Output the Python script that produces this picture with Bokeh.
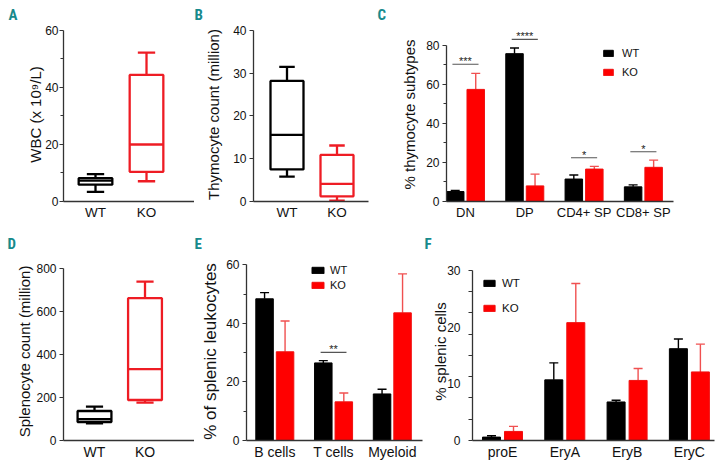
from bokeh.plotting import figure
from bokeh.layouts import row, column
from bokeh.models import (ColumnDataSource, FixedTicker, Whisker, TeeHead, Legend,
                          LegendItem, Range1d, Title)
from bokeh.core.properties import value
from bokeh.embed import file_html
from bokeh.resources import INLINE

# ---------------- data ----------------
box_groups = ["WT", "KO"]

wbc_min = [3.4, 7.1]
wbc_q1 = [5.9, 10.4]
wbc_med = [7.3, 20.0]
wbc_q3 = [8.2, 44.4]
wbc_max = [9.6, 52.2]

thymo_min = [5.8, 0.2]
thymo_q1 = [7.5, 1.2]
thymo_med = [15.6, 4.1]
thymo_q3 = [28.2, 10.9]
thymo_max = [31.5, 13.1]

spleno_min = [80, 176]
spleno_q1 = [86, 188]
spleno_med = [99, 331]
spleno_q3 = [137, 661]
spleno_max = [157, 738]

thy_subtypes = ["DN", "DP", "CD4+ SP", "CD8+ SP"]
thy_wt = [5.1, 75.7, 11.5, 7.5]
thy_wt_sem = [0.5, 2.9, 2.1, 1.0]
thy_ko = [57.4, 8.0, 16.6, 17.5]
thy_ko_sem = [8.2, 6.0, 1.4, 3.7]
thy_sig_idx = [0, 1, 2, 3]
thy_sig_y = [70.3, 83.0, 22.4, 25.5]
thy_sig = ["***", "****", "*", "*"]

leuk_types = ["B cells", "T cells", "Myeloid"]
leuk_wt = [48.4, 26.5, 15.9]
leuk_wt_sem = [2.1, 0.8, 1.6]
leuk_ko = [30.3, 13.2, 43.6]
leuk_ko_sem = [10.5, 3.0, 13.3]
leuk_sig_idx = [1]
leuk_sig_y = [30.1]
leuk_sig = ["**"]

ery_types = ["proE", "EryA", "EryB", "EryC"]
ery_wt = [0.6, 10.7, 6.8, 16.2]
ery_wt_sem = [0.25, 3.0, 0.3, 1.7]
ery_ko = [1.6, 20.8, 10.6, 12.1]
ery_ko_sem = [0.9, 6.9, 2.1, 4.9]

# ---------------- styles ----------------
BLACK = "#000000"
RED = "#ff0000"
BOX_RED = "#ee1c24"
ERR_RED = "#f05050"
AXIS = "#333333"
TEAL = "#178a8c"
FONT = "Liberation Sans"
LETTER_FONT = "Liberation Sans Narrow, Roboto Condensed, Liberation Sans"


def make_fig(width, height, xr, yr, borders, letter, letter_off, letter_standoff):
    l, r, t, b = borders
    p = figure(width=width, height=height, x_range=Range1d(*xr), y_range=Range1d(*yr),
               output_backend="svg", toolbar_location=None,
               min_border_left=l, min_border_right=r, min_border_top=t, min_border_bottom=b)
    p.outline_line_color = None
    p.grid.visible = False
    p.background_fill_color = "white"
    p.border_fill_color = "white"
    p.title = Title(text=letter, align="left", offset=letter_off, standoff=letter_standoff,
                    text_font=LETTER_FONT, text_font_size="15px", text_font_style="bold",
                    text_color=TEAL, vertical_align="bottom")
    return p


def style_axes(p, xticks, xlabels, xfs, yticks, yminor, ytop, ylabel, ylfs="15px",
               ytick_out=4, yminor_out=3, ylab_standoff=3, ytick_standoff=3):
    xa = p.xaxis[0]
    xa.ticker = FixedTicker(ticks=xticks)
    xa.major_label_overrides = {t: lab for t, lab in zip(xticks, xlabels)}
    xa.major_tick_line_color = None
    xa.minor_tick_line_color = None
    xa.major_tick_out = 0
    xa.major_tick_in = 0
    xa.major_label_standoff = 3
    xa.axis_line_color = AXIS
    xa.axis_line_width = 1.3
    xa.major_label_text_font = FONT
    xa.major_label_text_font_size = xfs
    xa.major_label_text_color = "#111111"

    ya = p.yaxis[0]
    ya.ticker = FixedTicker(ticks=yticks, minor_ticks=yminor)
    ya.bounds = (0, ytop)
    ya.axis_line_color = AXIS
    ya.axis_line_width = 1.3
    ya.major_tick_line_color = AXIS
    ya.minor_tick_line_color = AXIS
    ya.major_tick_line_width = 1.2
    ya.minor_tick_line_width = 1.2
    ya.major_tick_out = ytick_out
    ya.major_tick_in = 0
    ya.minor_tick_out = yminor_out
    ya.minor_tick_in = 0
    ya.major_label_standoff = ytick_standoff
    ya.major_label_text_font = FONT
    ya.major_label_text_font_size = "12px"
    ya.major_label_text_color = "#111111"
    ya.axis_label = ylabel
    ya.axis_label_text_font = FONT
    ya.axis_label_text_font_size = ylfs
    ya.axis_label_text_font_style = "normal"
    ya.axis_label_text_color = "#111111"
    ya.axis_label_standoff = ylab_standoff


def box_panel(p, mins, q1s, meds, q3s, maxs, box_w, cap_w):
    colors = [BLACK, BOX_RED]
    xs = [i + 1 for i in range(len(box_groups))]
    src = ColumnDataSource(dict(
        x=xs, left=[x - box_w / 2 for x in xs], right=[x + box_w / 2 for x in xs],
        cl=[x - cap_w / 2 for x in xs], cr=[x + cap_w / 2 for x in xs],
        mn=mins, q1=q1s, md=meds, q3=q3s, mx=maxs, color=colors))
    lw = 2.3
    p.segment(x0="x", x1="x", y0="q3", y1="mx", line_color="color", line_width=lw, source=src)
    p.segment(x0="x", x1="x", y0="mn", y1="q1", line_color="color", line_width=lw, source=src)
    p.segment(x0="cl", x1="cr", y0="mx", y1="mx", line_color="color", line_width=lw, source=src)
    p.segment(x0="cl", x1="cr", y0="mn", y1="mn", line_color="color", line_width=lw, source=src)
    p.quad(left="left", right="right", bottom="q1", top="q3", fill_color="white",
           line_color="color", line_width=lw, source=src)
    p.segment(x0="left", x1="right", y0="md", y1="md", line_color="color", line_width=lw, source=src)


def bar_panel(p, cats, wt, wt_sem, ko, ko_sem, off, bw):
    idx = list(range(len(cats)))
    swt = ColumnDataSource(dict(x=[i - off for i in idx], top=wt,
                                hi=[v + s for v, s in zip(wt, wt_sem)]))
    sko = ColumnDataSource(dict(x=[i + off for i in idx], top=ko,
                                hi=[v + s for v, s in zip(ko, ko_sem)]))
    p.add_layout(Whisker(source=swt, base="x", lower="top", upper="hi", dimension="height",
                         line_color=BLACK, line_width=1.4, lower_head=None,
                         upper_head=TeeHead(size=9, line_color=BLACK, line_width=1.4)))
    p.add_layout(Whisker(source=sko, base="x", lower="top", upper="hi", dimension="height",
                         line_color=ERR_RED, line_width=1.4, lower_head=None,
                         upper_head=TeeHead(size=9, line_color=ERR_RED, line_width=1.4)))
    rw = p.vbar(x="x", top="top", bottom=0, width=bw, fill_color=BLACK, line_color=BLACK,
                line_width=1, source=swt)
    rk = p.vbar(x="x", top="top", bottom=0, width=bw, fill_color=RED, line_color="#f01010",
                line_width=1, source=sko)
    return idx, rw, rk


def add_legend(p, rw, rk, loc, gw, spacing, standoff, fs):
    leg = Legend(items=[LegendItem(label="WT", renderers=[rw]), LegendItem(label="KO", renderers=[rk])],
                 location=loc, orientation="vertical", glyph_width=gw, glyph_height=8,
                 label_height=8, spacing=spacing, padding=0, margin=0, border_line_color=None,
                 background_fill_alpha=0, label_text_font=FONT, label_text_font_size=fs,
                 label_standoff=standoff, label_text_color="#111111")
    p.add_layout(leg)


def add_sig(p, idxs, ys, labels, half):
    src = ColumnDataSource(dict(x=idxs, x0=[i - half for i in idxs], x1=[i + half for i in idxs],
                                y=ys, t=labels))
    p.segment(x0="x0", x1="x1", y0="y", y1="y", line_color="#555555", line_width=1.1, source=src)
    p.text(x="x", y="y", text="t", text_align="center", text_baseline="bottom",
           y_offset=3, text_font=value(FONT), text_font_size="11px", text_color="#222222",
           source=src)


TOP_H = 222
BOT_H = 242
TOP_B = (26, 20)     # top / bottom borders, top row
BOT_B = (40, 24)     # top / bottom borders, bottom row

# ---------------- panel A ----------------
pA = make_fig(194, TOP_H, (0.3725, 2.941), (0, 61.04), (63, 0) + TOP_B, "A", -55, 7)
box_panel(pA, wbc_min, wbc_q1, wbc_med, wbc_q3, wbc_max, 0.66, 0.34)
style_axes(pA, [1, 2], box_groups, "13.5px", [0, 20, 40, 60], [10, 30, 50], 60,
           "WBC (x 10\u2079/L)", ylab_standoff=-2, ytick_standoff=1)

# ---------------- panel B ----------------
pB = make_fig(183, TOP_H, (0.33, 2.63), (0, 40.69), (59, 9) + TOP_B, "B", -59, 7)
box_panel(pB, thymo_min, thymo_q1, thymo_med, thymo_q3, thymo_max, 0.66, 0.31)
style_axes(pB, [1, 2], box_groups, "13.5px", [0, 10, 20, 30, 40], [], 40,
           "Thymocyte count (million)", ylab_standoff=8)

# ---------------- panel C ----------------
pC = make_fig(345, TOP_H, (-0.32, 3.508), (0, 89.1), (69, 49) + TOP_B, "C", -69, 7)
idxC, rwC, rkC = bar_panel(pC, thy_subtypes, thy_wt, thy_wt_sem, thy_ko, thy_ko_sem, 0.173, 0.295)
add_sig(pC, thy_sig_idx, thy_sig_y, thy_sig, 0.22)
style_axes(pC, idxC, thy_subtypes, "13px", [0, 20, 40, 60, 80], [10, 30, 50, 70], 80,
           "% thymocyte subtypes", ylab_standoff=5)
add_legend(pC, rwC, rkC, (156, 123), 12, 7, 8, "11px")

# ---------------- panel D ----------------
pD = make_fig(194, BOT_H, (0.386, 2.98), (0, 826.4), (63, 0) + BOT_B, "D", -56, 20)
box_panel(pD, spleno_min, spleno_q1, spleno_med, spleno_q3, spleno_max, 0.67, 0.34)
style_axes(pD, [1, 2], box_groups, "14px", [0, 200, 400, 600, 800], [], 800,
           "Splenocyte count (million)", ylab_standoff=0)

# ---------------- panel E ----------------
pE = make_fig(230, BOT_H, (-0.482, 2.514), (0, 60.8), (52, 2) + BOT_B, "E", -52, 20)
idxE, rwE, rkE = bar_panel(pE, leuk_types, leuk_wt, leuk_wt_sem, leuk_ko, leuk_ko_sem, 0.1745, 0.298)
add_sig(pE, leuk_sig_idx, leuk_sig_y, leuk_sig, 0.22)
style_axes(pE, idxE, leuk_types, "14px", [0, 20, 40, 60], [10, 30, 50], 60,
           "% of splenic leukocytes", ylfs="17px", ylab_standoff=3)
add_legend(pE, rwE, rkE, (64, 149), 15, 3, 5, "11px")

# ---------------- panel F ----------------
pF = make_fig(298, BOT_H, (-0.4815, 3.403), (0, 31.41), (48, 8) + BOT_B, "F", -48, 20)
idxF, rwF, rkF = bar_panel(pF, ery_types, ery_wt, ery_wt_sem, ery_ko, ery_ko_sem, 0.1766, 0.289)
style_axes(pF, idxF, ery_types, "14px", [0, 10, 20, 30],
           [0, 3.75, 7.5, 11.25, 15, 18.75, 22.5, 26.25, 30], 30,
           "% splenic cells", ytick_out=0, yminor_out=4, ylab_standoff=-5, ytick_standoff=8)
add_legend(pF, rwF, rkF, (10, 126), 14, 13, 6, "11.5px")

layout = column(row(pA, pB, pC), row(pD, pE, pF))

with open("out.html", "w") as f:
    f.write(file_html(layout, INLINE))
